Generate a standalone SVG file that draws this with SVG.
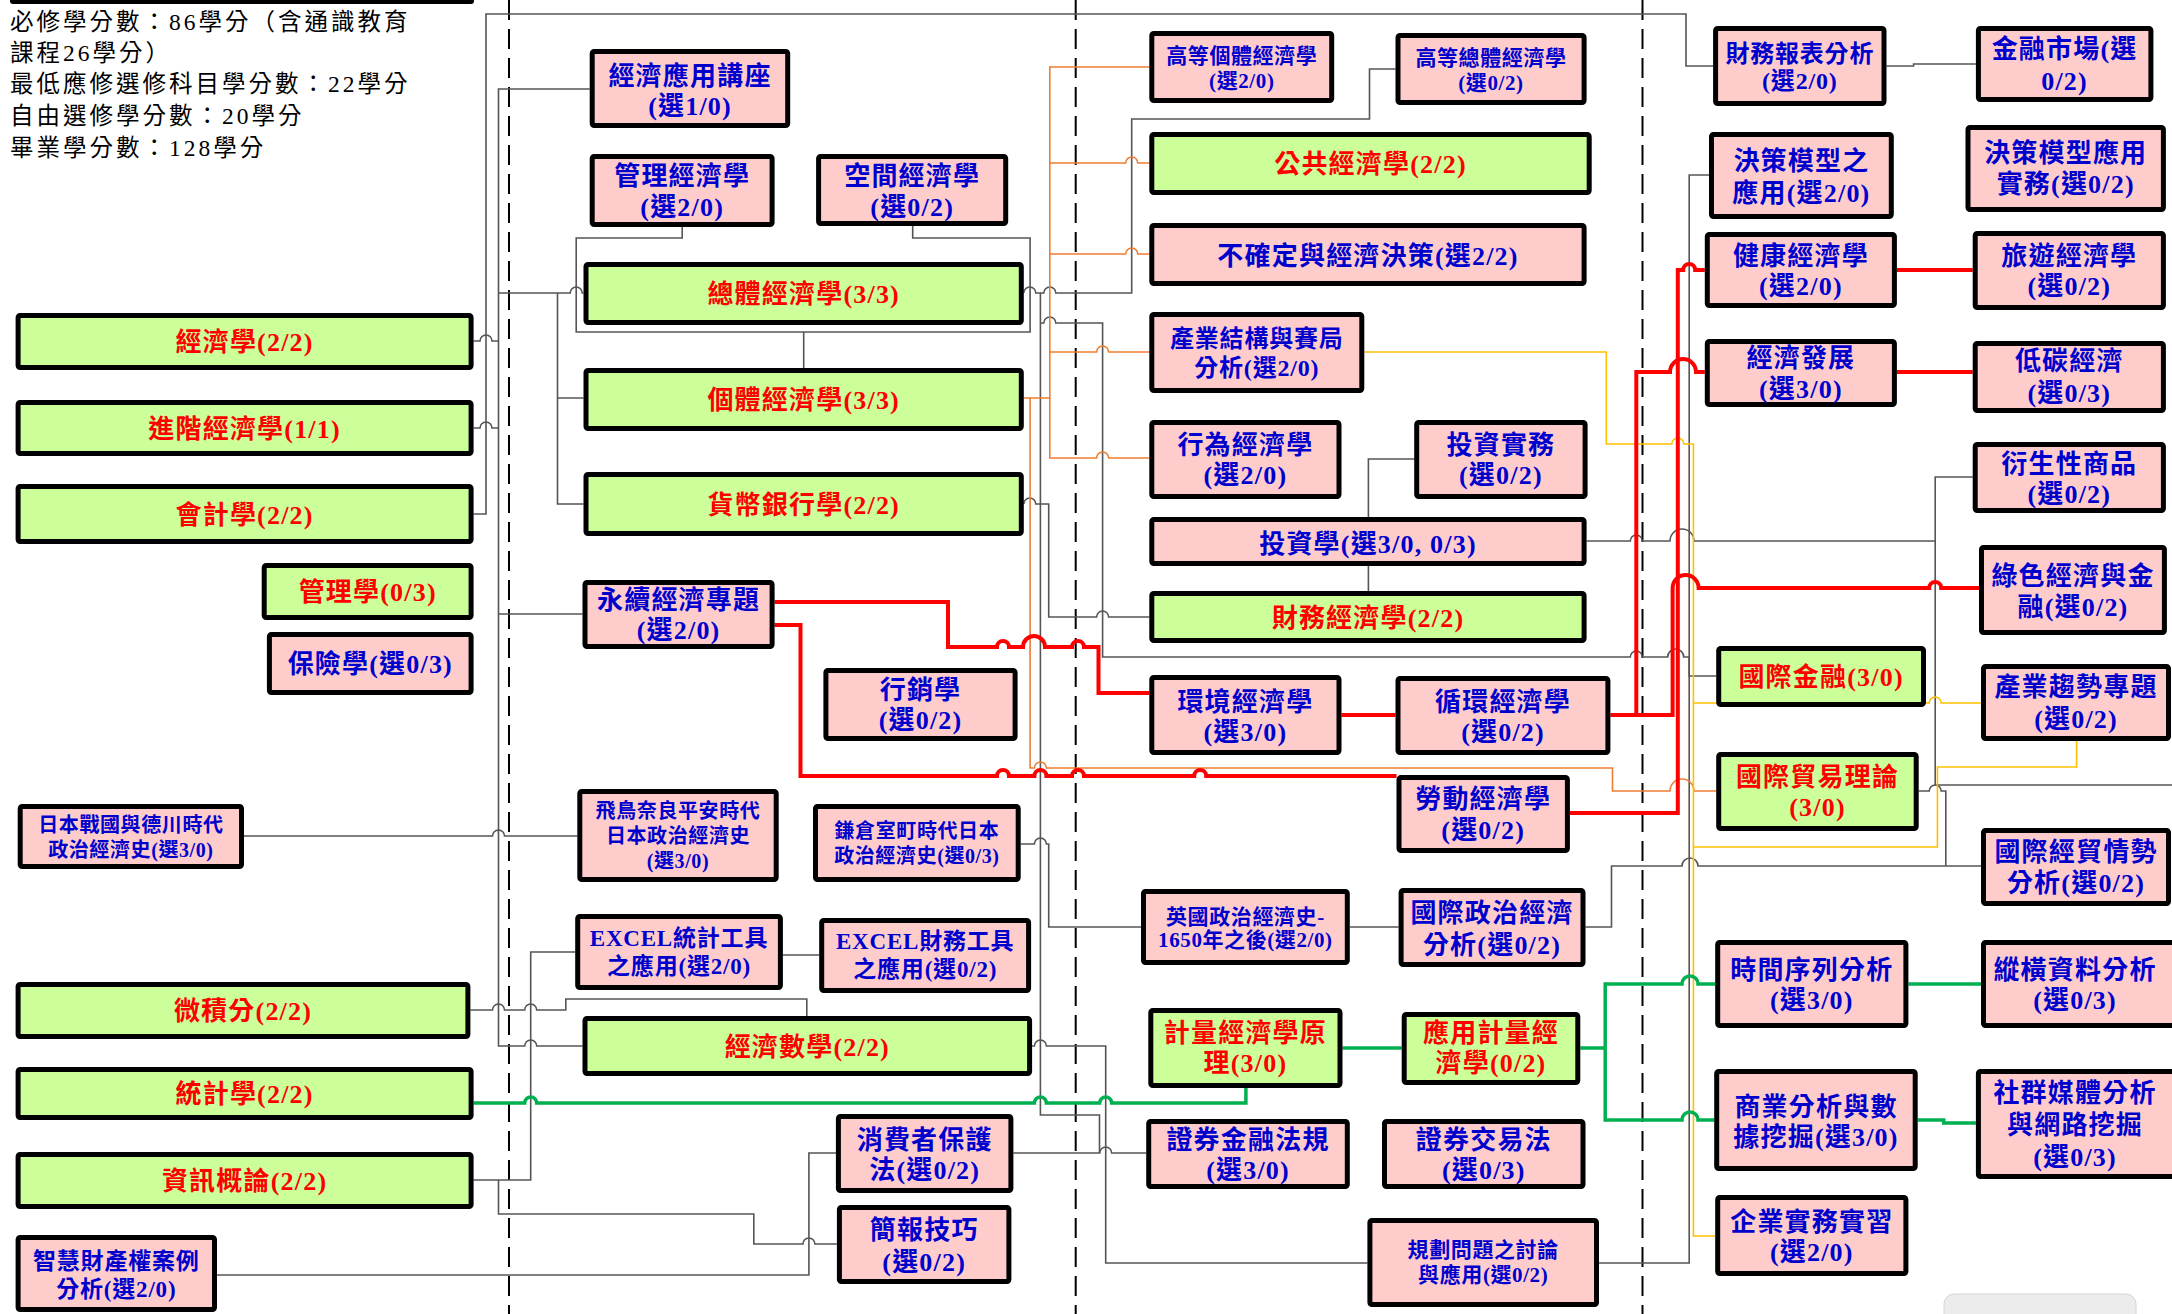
<svg xmlns="http://www.w3.org/2000/svg" width="2172" height="1314" viewBox="0 0 2172 1314">
<style>
text{font-family:"Liberation Serif","Noto Sans CJK TC",serif;font-weight:bold;text-anchor:middle;font-size:26px;letter-spacing:1.2px}
.req rect{fill:#CCFF99;stroke:#000;stroke-width:5}
.opt rect{fill:#FFCCCC;stroke:#000;stroke-width:5}
.req text{fill:#FF0000}
.opt text{fill:#0000CC}
.s20 text{font-size:21px;letter-spacing:0.6px}
.s19 text{font-size:20px;letter-spacing:0.6px}
.s22 text{font-size:23px;letter-spacing:0.8px}
.s23 text{font-size:24px;letter-spacing:0.8px}
.hd{font-weight:normal;text-anchor:start;font-size:23.5px;letter-spacing:3px;fill:#000}
.c{fill:none;stroke:#555;stroke-width:1.6}
.o{fill:none;stroke:#ED7D31;stroke-width:1.6}
.y{fill:none;stroke:#FFC000;stroke-width:1.6}
.r{fill:none;stroke:#FF0000;stroke-width:4}
.g{fill:none;stroke:#00B050;stroke-width:3.5}
.d{fill:none;stroke:#000;stroke-width:2;stroke-dasharray:20 9}
</style>
<rect width="2172" height="1314" fill="#fff"/>
<rect x="10" y="-10" width="464" height="14" rx="3" fill="#000"/>
<g id="header">
<text class="hd" x="10" y="30">必修學分數：86學分（含通識教育</text>
<text class="hd" x="10" y="61">課程26學分）</text>
<text class="hd" x="10" y="92">最低應修選修科目學分數：22學分</text>
<text class="hd" x="10" y="124">自由選修學分數：20學分</text>
<text class="hd" x="10" y="156">畢業學分數：128學分</text>
</g>
<g id="dividers">
<path class="d" d="M509,0V1314M1075.7,0V1314M1642.5,0V1314"/>
</g>
<g id="connectors">
<path class="c" d="M473.6,514H486V14H1686V66H1713"/>
<path class="c" d="M473.6,341H480a6,6 0 0 1 12,0H498.5"/>
<path class="c" d="M473.6,428H480a6,6 0 0 1 12,0H498.5"/>
<path class="c" d="M589.7,89H498.5V1046H524.7a6,6 0 0 1 12,0H582.5"/>
<path class="c" d="M498.5,293H570.2a6,6 0 0 1 12,0H583.5"/>
<path class="c" d="M498.5,614H582.5"/>
<path class="c" d="M244,836H492.5a6,6 0 0 1 12,0H577.3"/>
<path class="c" d="M470.4,1010H492.5a6,6 0 0 1 12,0H524.7a6,6 0 0 1 12,0H565.8V999H806.8V1016"/>
<path class="c" d="M575.2,952H530.7V1180H473.6"/>
<path class="c" d="M498.5,1180V1214H753.8V1244H802.9a6,6 0 0 1 12,0H836.9"/>
<path class="c" d="M217,1275H808.9V1153H835.9"/>
<path class="c" d="M782.9,955H819.2"/>
<path class="c" d="M682.2,227V238H576.2V332H1030.1V238H912.7V226"/>
<path class="c" d="M803.7,332V368"/>
<path class="c" d="M557.5,293V504H583.5M557.5,398H583.5"/>
<path class="c" d="M1023.8,293a6,6 0 0 1 12,0H1043.8a6,6 0 0 1 12,0H1131.7V119H1369.5V69H1395.5"/>
<path class="c" d="M1040.4,293V1115H1099.5V1153"/>
<path class="c" d="M1040.4,323H1043.8a6,6 0 0 1 12,0H1102.6V657H1630.3a6,6 0 0 1 12,0H1667.7a8,8 0 0 1 16,0H1689.2V676H1716.2"/>
<path class="c" d="M1023.8,504a6,6 0 0 1 12,0H1048.7V617H1096.6a6,6 0 0 1 12,0H1149.3"/>
<path class="c" d="M1020.7,844H1034.4a6,6 0 0 1 12,0H1048.7V927H1141M1349.8,927H1398.6"/>
<path class="c" d="M1585.5,927H1611.5V866H1682a8,8 0 0 1 16,0H1981"/>
<path class="c" d="M1918.7,791H1929.2a6,6 0 0 1 12,0H1945.8V866"/>
<path class="c" d="M1586.6,541H1630.3a6,6 0 0 1 12,0H1670a12,12 0 0 1 24,0H1935.2M1972.7,477H1935.2V785H2172"/>
<path class="c" d="M1709,175H1689.2V1263H1599"/>
<path class="c" d="M1032.1,1046H1034.4a6,6 0 0 1 12,0H1105.7V1263H1367.4"/>
<path class="c" d="M1013.4,1153H1099.7a6,6 0 0 1 12,0H1146.2"/>
<path class="c" d="M1886.5,66H1913.6V64H1975.9"/>
<path class="c" d="M1414.2,459H1368.4V517M1368.4,566V591"/>
<path class="o" d="M1023.8,398H1049.8V67H1149.3"/>
<path class="o" d="M1049.8,163H1125.7a6,6 0 0 1 12,0H1149.3"/>
<path class="o" d="M1049.8,254H1125.7a6,6 0 0 1 12,0H1149.3"/>
<path class="o" d="M1049.8,352H1096.6a6,6 0 0 1 12,0H1149.3"/>
<path class="o" d="M1049.8,398V458H1096.6a6,6 0 0 1 12,0H1149.3"/>
<path class="o" d="M1030.1,398V768H1034.4a6,6 0 0 1 12,0H1612.5V791H1670a12,12 0 0 1 24,0H1716.2"/>
<path class="y" d="M1364.3,352H1606.3V444H1671.8a6,6 0 0 1 12,0H1693.4V1236H1715.2"/>
<path class="y" d="M1693.4,703H1929.2a6,6 0 0 1 12,0H1981"/>
<path class="y" d="M2076.6,741V767H1937.4V847H1693.4"/>
<path class="r" d="M774.6,602H948V647H997a6,6 0 0 1 12,0H1023a11,11 0 0 1 22,0H1072a6,6 0 0 1 12,0H1098.5V693H1149.3"/>
<path class="r" d="M774.6,625H800.5V776H997a6,6 0 0 1 12,0H1034.4a6,6 0 0 1 12,0H1072a6,6 0 0 1 12,0H1194.2a6,6 0 0 1 12,0H1396.5"/>
<path class="r" d="M1341.5,715H1395.5"/>
<path class="r" d="M1610.4,715H1672.6V588a13,13 0 0 1 26,0H1929.2a6,6 0 0 1 12,0H1980"/>
<path class="r" d="M1636.3,715V372H1670a13,13 0 0 1 26,0H1704.8"/>
<path class="r" d="M1569.9,813H1677.8V270H1683.2a6,6 0 0 1 12,0H1704.8"/>
<path class="r" d="M1896.9,270H1972.7M1896.9,372H1972.7"/>
<path class="g" d="M473.6,1103H524.7a6,6 0 0 1 12,0H1034.4a6,6 0 0 1 12,0H1099.7a6,6 0 0 1 12,0H1245.9V1088"/>
<path class="g" d="M1342.5,1048H1401.7"/>
<path class="g" d="M1580.3,1048H1605.2V984H1682a8,8 0 0 1 16,0H1715.2M1605.2,1048V1120H1682a8,8 0 0 1 16,0H1714.2"/>
<path class="g" d="M1908.4,984H1981"/>
<path class="g" d="M1917.7,1120H1943.7V1123H1975.9"/>
</g>
<g id="n01" class="req"><rect x="18.1" y="315.5" width="453" height="52" rx="2"/><text x="244.6" y="351">經濟學(2/2)</text></g>
<g id="n02" class="req"><rect x="18.1" y="402.5" width="453" height="51" rx="2"/><text x="244.6" y="437.5">進階經濟學(1/1)</text></g>
<g id="n03" class="req"><rect x="18.1" y="486.5" width="453" height="55" rx="2"/><text x="244.6" y="523.5">會計學(2/2)</text></g>
<g id="n04" class="req"><rect x="264.2" y="565.5" width="206.9" height="52" rx="2"/><text x="367.7" y="601">管理學(0/3)</text></g>
<g id="n05" class="req"><rect x="18.1" y="984.5" width="449.8" height="52" rx="2"/><text x="243" y="1020">微積分(2/2)</text></g>
<g id="n06" class="req"><rect x="18.1" y="1069.5" width="453" height="48" rx="2"/><text x="244.6" y="1103">統計學(2/2)</text></g>
<g id="n07" class="req"><rect x="18.1" y="1154.5" width="453" height="52" rx="2"/><text x="244.6" y="1190">資訊概論(2/2)</text></g>
<g id="n08" class="req"><rect x="586" y="264.5" width="435.3" height="58" rx="2"/><text x="803.7" y="303">總體經濟學(3/3)</text></g>
<g id="n09" class="req"><rect x="586" y="370.5" width="435.3" height="58" rx="2"/><text x="803.7" y="409">個體經濟學(3/3)</text></g>
<g id="n10" class="req"><rect x="586" y="474.5" width="435.3" height="59" rx="2"/><text x="803.7" y="513.5">貨幣銀行學(2/2)</text></g>
<g id="n11" class="req"><rect x="585" y="1018.5" width="444.6" height="55" rx="2"/><text x="807.3" y="1055.5">經濟數學(2/2)</text></g>
<g id="n12" class="req"><rect x="1151.8" y="134.5" width="437.4" height="58" rx="2"/><text x="1370.5" y="173">公共經濟學(2/2)</text></g>
<g id="n13" class="req"><rect x="1151.8" y="593.5" width="432.3" height="47" rx="2"/><text x="1368" y="626.5">財務經濟學(2/2)</text></g>
<g id="n14" class="req"><rect x="1150.8" y="1010.5" width="189.2" height="75" rx="2"/><text x="1245.4" y="1042">計量經濟學原</text><text x="1245.4" y="1072">理(3/0)</text></g>
<g id="n15" class="req"><rect x="1404.2" y="1014.5" width="173.6" height="68" rx="2"/><text x="1491" y="1042">應用計量經</text><text x="1491" y="1072">濟學(0/2)</text></g>
<g id="n16" class="req"><rect x="1718.7" y="648.5" width="204.8" height="56" rx="2"/><text x="1821.1" y="686">國際金融(3/0)</text></g>
<g id="n17" class="req"><rect x="1718.7" y="754.5" width="197.5" height="74" rx="2"/><text x="1817.5" y="786">國際貿易理論</text><text x="1817.5" y="816">(3/0)</text></g>
<g id="n18" class="opt"><rect x="269.4" y="634.5" width="201.7" height="58" rx="2"/><text x="370.3" y="673">保險學(選0/3)</text></g>
<g id="n19" class="opt s19"><rect x="20.2" y="806.5" width="221.3" height="60" rx="2"/><text x="130.9" y="831.5">日本戰國與德川時代</text><text x="130.9" y="856.5">政治經濟史(選3/0)</text></g>
<g id="n20" class="opt s22"><rect x="18.1" y="1237.5" width="196.4" height="72" rx="2"/><text x="116.3" y="1269">智慧財產權案例</text><text x="116.3" y="1297">分析(選2/0)</text></g>
<g id="n21" class="opt"><rect x="592.2" y="51.5" width="195.5" height="74" rx="2"/><text x="690" y="84.5">經濟應用講座</text><text x="690" y="114.5">(選1/0)</text></g>
<g id="n22" class="opt"><rect x="592.2" y="156.5" width="179.9" height="68" rx="2"/><text x="682.2" y="184.5">管理經濟學</text><text x="682.2" y="215.5">(選2/0)</text></g>
<g id="n23" class="opt"><rect x="818.6" y="156.5" width="187.1" height="67" rx="2"/><text x="912.2" y="184.5">空間經濟學</text><text x="912.2" y="215.5">(選0/2)</text></g>
<g id="n24" class="opt"><rect x="585" y="582.5" width="187.1" height="64" rx="2"/><text x="678.6" y="609">永續經濟專題</text><text x="678.6" y="639">(選2/0)</text></g>
<g id="n25" class="opt"><rect x="825.9" y="670.5" width="189.2" height="68" rx="2"/><text x="920.5" y="699">行銷學</text><text x="920.5" y="729">(選0/2)</text></g>
<g id="n26" class="opt s19"><rect x="579.8" y="791.5" width="196.4" height="88" rx="2"/><text x="678" y="818">飛鳥奈良平安時代</text><text x="678" y="843">日本政治經濟史</text><text x="678" y="868">(選3/0)</text></g>
<g id="n27" class="opt s19"><rect x="815.5" y="806.5" width="202.7" height="73" rx="2"/><text x="916.9" y="838">鎌倉室町時代日本</text><text x="916.9" y="863">政治經濟史(選0/3)</text></g>
<g id="n28" class="opt s22"><rect x="577.7" y="916.5" width="202.7" height="71" rx="2"/><text x="679" y="945.5">EXCEL統計工具</text><text x="679" y="974">之應用(選2/0)</text></g>
<g id="n29" class="opt s22"><rect x="821.7" y="920.5" width="206.9" height="70" rx="2"/><text x="925.2" y="949">EXCEL財務工具</text><text x="925.2" y="977">之應用(選0/2)</text></g>
<g id="n30" class="opt"><rect x="838.4" y="1116.5" width="172.5" height="74" rx="2"/><text x="924.7" y="1148.5">消費者保護</text><text x="924.7" y="1178.5">法(選0/2)</text></g>
<g id="n31" class="opt"><rect x="839.4" y="1207.5" width="169.5" height="74" rx="2"/><text x="924.2" y="1238.5">簡報技巧</text><text x="924.2" y="1270.5">(選0/2)</text></g>
<g id="n32" class="opt s20"><rect x="1151.8" y="33.5" width="179.9" height="67" rx="2"/><text x="1241.8" y="62.5">高等個體經濟學</text><text x="1241.8" y="87.5">(選2/0)</text></g>
<g id="n33" class="opt s20"><rect x="1398" y="35.5" width="186.1" height="67" rx="2"/><text x="1491" y="64.5">高等總體經濟學</text><text x="1491" y="89.5">(選0/2)</text></g>
<g id="n34" class="opt"><rect x="1151.8" y="225.5" width="432.3" height="58" rx="2"/><text x="1368" y="264.5">不確定與經濟決策(選2/2)</text></g>
<g id="n35" class="opt s23"><rect x="1151.8" y="314.5" width="210" height="76" rx="2"/><text x="1256.8" y="346.5">產業結構與賽局</text><text x="1256.8" y="375.5">分析(選2/0)</text></g>
<g id="n36" class="opt"><rect x="1151.8" y="422.5" width="187.2" height="74" rx="2"/><text x="1245.4" y="453.5">行為經濟學</text><text x="1245.4" y="483.5">(選2/0)</text></g>
<g id="n37" class="opt"><rect x="1416.7" y="422.5" width="168.4" height="74" rx="2"/><text x="1500.9" y="453.5">投資實務</text><text x="1500.9" y="483.5">(選0/2)</text></g>
<g id="n38" class="opt"><rect x="1151.8" y="519.5" width="432.3" height="44" rx="2"/><text x="1368" y="552.5">投資學(選3/0, 0/3)</text></g>
<g id="n39" class="opt"><rect x="1151.8" y="677.5" width="187.2" height="75" rx="2"/><text x="1245.4" y="710.5">環境經濟學</text><text x="1245.4" y="740.5">(選3/0)</text></g>
<g id="n40" class="opt"><rect x="1398" y="678.5" width="209.9" height="74" rx="2"/><text x="1503" y="710.5">循環經濟學</text><text x="1503" y="740.5">(選0/2)</text></g>
<g id="n41" class="opt"><rect x="1399" y="777.5" width="168.4" height="73" rx="2"/><text x="1483.2" y="807.5">勞動經濟學</text><text x="1483.2" y="838.5">(選0/2)</text></g>
<g id="n42" class="opt s20"><rect x="1143.5" y="891.5" width="203.8" height="71" rx="2"/><text x="1245.4" y="923.5">英國政治經濟史-</text><text x="1245.4" y="946.5">1650年之後(選2/0)</text></g>
<g id="n43" class="opt"><rect x="1401.1" y="890.5" width="181.9" height="74" rx="2"/><text x="1492" y="922">國際政治經濟</text><text x="1492" y="953.5">分析(選0/2)</text></g>
<g id="n44" class="opt"><rect x="1148.7" y="1121.5" width="198.6" height="65" rx="2"/><text x="1248" y="1148.5">證券金融法規</text><text x="1248" y="1178.5">(選3/0)</text></g>
<g id="n45" class="opt"><rect x="1384.5" y="1121.5" width="198.5" height="65" rx="2"/><text x="1483.8" y="1148.5">證券交易法</text><text x="1483.8" y="1178.5">(選0/3)</text></g>
<g id="n46" class="opt s20"><rect x="1369.9" y="1220.5" width="226.6" height="84" rx="2"/><text x="1483.2" y="1256.5">規劃問題之討論</text><text x="1483.2" y="1281.5">與應用(選0/2)</text></g>
<g id="n47" class="opt s23"><rect x="1715.6" y="28.5" width="168.4" height="75" rx="2"/><text x="1799.8" y="61.5">財務報表分析</text><text x="1799.8" y="88.5">(選2/0)</text></g>
<g id="n48" class="opt"><rect x="1978.4" y="28.5" width="172.5" height="71" rx="2"/><text x="2064.6" y="57.5">金融市場(選</text><text x="2064.6" y="89.5">0/2)</text></g>
<g id="n49" class="opt"><rect x="1711.5" y="134.5" width="179.8" height="82" rx="2"/><text x="1801.4" y="169.5">決策模型之</text><text x="1801.4" y="201.5">應用(選2/0)</text></g>
<g id="n50" class="opt"><rect x="1968" y="127.5" width="195.4" height="82" rx="2"/><text x="2065.7" y="161.5">決策模型應用</text><text x="2065.7" y="192.5">實務(選0/2)</text></g>
<g id="n51" class="opt"><rect x="1707.3" y="234.5" width="187.1" height="71" rx="2"/><text x="1800.9" y="264.5">健康經濟學</text><text x="1800.9" y="294.5">(選2/0)</text></g>
<g id="n52" class="opt"><rect x="1975.2" y="233.5" width="188.2" height="74" rx="2"/><text x="2069.3" y="264.5">旅遊經濟學</text><text x="2069.3" y="294.5">(選0/2)</text></g>
<g id="n53" class="opt"><rect x="1707.3" y="341.5" width="187.1" height="63" rx="2"/><text x="1800.9" y="366.5">經濟發展</text><text x="1800.9" y="397.5">(選3/0)</text></g>
<g id="n54" class="opt"><rect x="1975.2" y="343.5" width="188.2" height="67" rx="2"/><text x="2069.3" y="369.5">低碳經濟</text><text x="2069.3" y="401.5">(選0/3)</text></g>
<g id="n55" class="opt"><rect x="1975.2" y="444.5" width="188.2" height="66" rx="2"/><text x="2069.3" y="472.5">衍生性商品</text><text x="2069.3" y="502.5">(選0/2)</text></g>
<g id="n56" class="opt"><rect x="1981.5" y="547.5" width="182.9" height="85" rx="2"/><text x="2073" y="584.5">綠色經濟與金</text><text x="2073" y="615.5">融(選0/2)</text></g>
<g id="n57" class="opt"><rect x="1983.5" y="666.5" width="185" height="72" rx="2"/><text x="2076" y="695.5">產業趨勢專題</text><text x="2076" y="727.5">(選0/2)</text></g>
<g id="n58" class="opt"><rect x="1983.5" y="830.5" width="185" height="73" rx="2"/><text x="2076" y="860.5">國際經貿情勢</text><text x="2076" y="891.5">分析(選0/2)</text></g>
<g id="n59" class="opt"><rect x="1717.7" y="942.5" width="188.2" height="83" rx="2"/><text x="1811.8" y="978.5">時間序列分析</text><text x="1811.8" y="1008.5">(選3/0)</text></g>
<g id="n60" class="opt"><rect x="1983.5" y="942.5" width="210" height="83" rx="2"/><text x="2075" y="978.5">縱橫資料分析</text><text x="2075" y="1008.5">(選0/3)</text></g>
<g id="n61" class="opt"><rect x="1978.4" y="1071.5" width="215" height="105" rx="2"/><text x="2075" y="1102">社群媒體分析</text><text x="2075" y="1133.5">與網路挖掘</text><text x="2075" y="1165.5">(選0/3)</text></g>
<g id="n62" class="opt"><rect x="1716.7" y="1071.5" width="198.5" height="97" rx="2"/><text x="1816" y="1115.5">商業分析與數</text><text x="1816" y="1145.5">據挖掘(選3/0)</text></g>
<g id="n63" class="opt"><rect x="1717.7" y="1197.5" width="188.2" height="76" rx="2"/><text x="1811.8" y="1230.5">企業實務實習</text><text x="1811.8" y="1260.5">(選2/0)</text></g>
<rect x="1944" y="1294" width="192" height="40" rx="10" fill="#ececec" stroke="#d4d4d4"/>
</svg>
